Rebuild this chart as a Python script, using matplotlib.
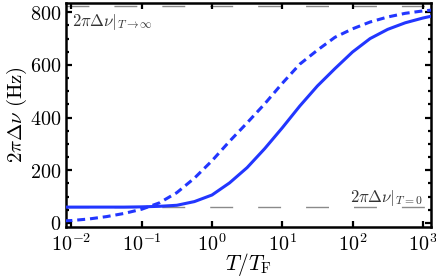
import numpy as np
import matplotlib
matplotlib.use('Agg')
import matplotlib.pyplot as plt
from matplotlib.ticker import FixedLocator, MultipleLocator, FuncFormatter, NullLocator

plt.rcParams['mathtext.fontset'] = 'cm'
plt.rcParams['font.family'] = 'DejaVu Serif'

# values (log10 of T/T_F, 2*pi*delta nu in Hz)
log_t = [-2.1, -2.0, -1.75, -1.5, -1.25, -1.0, -0.75, -0.5, -0.25, 0.0, 0.25, 0.5,
         0.75, 1.0, 1.25, 1.5, 1.75, 2.0, 2.25, 2.5, 2.75, 3.0, 3.12]
solid_vals = [60, 60, 60, 60, 60, 61, 63, 67, 81, 106, 152, 210,
              282, 361, 444, 520, 586, 649, 700, 735, 760, 778, 785]
dashed_vals = [8, 9, 15, 24, 36, 52, 76, 115, 170, 236, 310, 380,
               452, 530, 603, 656, 705, 737, 763, 782, 796, 805, 808]
limit_high = 823
limit_low = 61

t = np.power(10.0, log_t)
blue = '#2236ff'

fig = plt.figure(figsize=(4.36, 2.77), dpi=100)
ax = fig.add_axes([0.151, 0.181, 0.838, 0.808])

ax.axhline(limit_high, color='#8a8a8a', lw=1.0, dashes=(16.5, 18), zorder=1)
ax.axhline(limit_low, color='#8a8a8a', lw=1.0, dashes=(16.5, 18), zorder=1)
ax.plot(t, solid_vals, color=blue, lw=2.2, solid_capstyle='butt', solid_joinstyle='round', zorder=3)
ax.plot(t, dashed_vals, color=blue, lw=2.2, dashes=(2.6, 1.6), zorder=3)

ax.set_xscale('log')
ax.set_xlim(10**-2.08, 10**3.12)
ax.set_ylim(-15, 835)

ax.xaxis.set_major_locator(FixedLocator([1e-2, 1e-1, 1e0, 1e1, 1e2, 1e3]))
ax.xaxis.set_minor_locator(NullLocator())
ax.xaxis.set_major_formatter(FuncFormatter(lambda v, p: r'$10^{%d}$' % round(np.log10(v))))
ax.yaxis.set_major_locator(MultipleLocator(200))
ax.yaxis.set_minor_locator(MultipleLocator(50))
ax.yaxis.set_major_formatter(FuncFormatter(lambda v, p: r'$%d$' % v))

for s in ax.spines.values():
    s.set_linewidth(1.8)
ax.tick_params(which='both', direction='in', top=True, right=True, width=1.6)
ax.tick_params(which='major', length=4, labelsize=14.5, pad=3)
ax.tick_params(axis='x', which='major', pad=4.5)
ax.tick_params(which='minor', length=2.5)

ax.set_xlabel(r'$T/T_\mathrm{F}$', fontsize=15.5, labelpad=-2.5)
ax.set_ylabel(r'$2\pi\Delta\nu\ (\mathrm{Hz})$', fontsize=15, labelpad=1)

ax.text(0.016, 0.958, r'$2\pi\Delta\nu|_{T\to\infty}$', transform=ax.transAxes,
        ha='left', va='top', fontsize=12, color='#333333')
ax.text(0.978, 0.172, r'$2\pi\Delta\nu|_{T=0}$', transform=ax.transAxes,
        ha='right', va='top', fontsize=12, color='#333333')

fig.savefig('out.png', dpi=100)
